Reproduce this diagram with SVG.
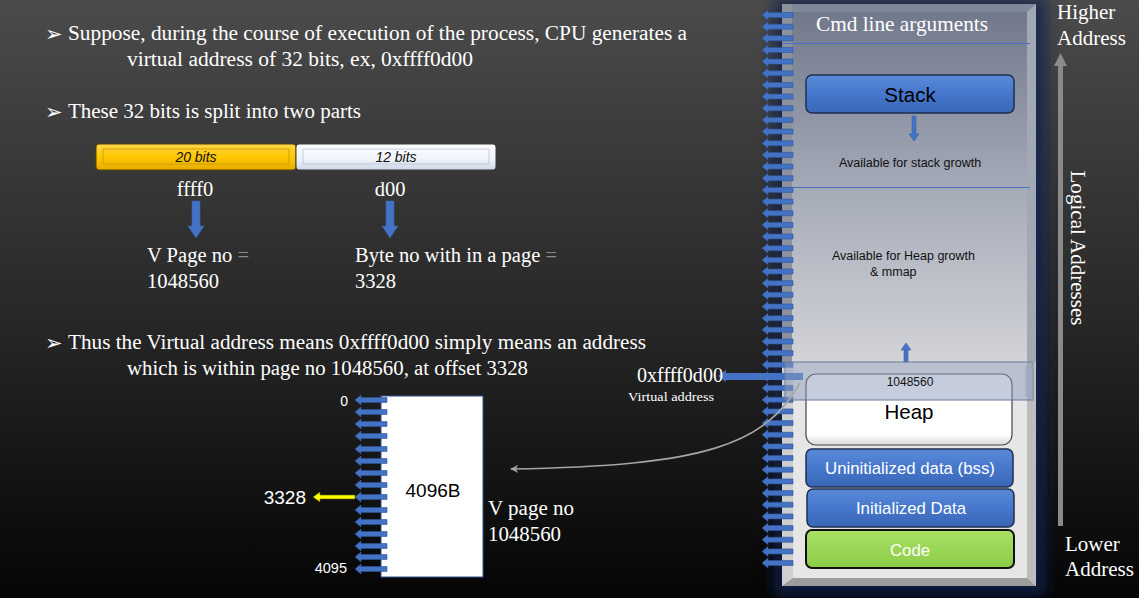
<svg xmlns="http://www.w3.org/2000/svg" width="1139" height="598" viewBox="0 0 1139 598">
  <defs>
    <linearGradient id="bg" x1="0" y1="0" x2="0" y2="1">
      <stop offset="0" stop-color="#4b4b4b"/>
      <stop offset="0.55" stop-color="#262626"/>
      <stop offset="1" stop-color="#050505"/>
    </linearGradient>
    <linearGradient id="upper" x1="0" y1="0" x2="0" y2="1">
      <stop offset="0" stop-color="#6e7689"/>
      <stop offset="0.55" stop-color="#a9aebb"/>
      <stop offset="1" stop-color="#d3d4d8"/>
    </linearGradient>
    <linearGradient id="blueBox" x1="0" y1="0" x2="0" y2="1">
      <stop offset="0" stop-color="#5b8ad8"/>
      <stop offset="0.5" stop-color="#4677cc"/>
      <stop offset="1" stop-color="#3a66b5"/>
    </linearGradient>
    <linearGradient id="greenBox" x1="0" y1="0" x2="0" y2="1">
      <stop offset="0" stop-color="#a8e064"/>
      <stop offset="1" stop-color="#8ccc48"/>
    </linearGradient>
    <linearGradient id="yellowBar" x1="0" y1="0" x2="0" y2="1">
      <stop offset="0" stop-color="#ffd54a"/>
      <stop offset="0.5" stop-color="#ffc800"/>
      <stop offset="1" stop-color="#e6ac00"/>
    </linearGradient>
    <linearGradient id="whiteBar" x1="0" y1="0" x2="0" y2="1">
      <stop offset="0" stop-color="#ffffff"/>
      <stop offset="0.6" stop-color="#eef2fa"/>
      <stop offset="1" stop-color="#cdd6e6"/>
    </linearGradient>
    <linearGradient id="heapBox" x1="0" y1="0" x2="0" y2="1">
      <stop offset="0" stop-color="#ffffff"/>
      <stop offset="0.85" stop-color="#ffffff"/>
      <stop offset="1" stop-color="#d8d8d8"/>
    </linearGradient>
    <filter id="glow" x="-20%" y="-10%" width="140%" height="120%">
      <feGaussianBlur stdDeviation="7"/>
    </filter>
    <marker id="grayHead" viewBox="0 0 10 10" refX="9" refY="5" markerWidth="8" markerHeight="8" orient="auto-start-reverse" markerUnits="userSpaceOnUse">
      <path d="M0,0 L10,5 L0,10 L3,5 Z" fill="#a6a6a6"/>
    </marker>
    <!-- small left-pointing tick arrow for the address column -->
    <path id="tick" d="M0,0 L6,-5 L6,-2.5 L31,-2.5 L31,2.5 L6,2.5 L6,5 Z" fill="#4472c4" stroke="#2f5597" stroke-width="0.6"/>
    <path id="pageTick" d="M0,0 L6,-5 L6,-2.5 L32,-2.5 L32,2.5 L6,2.5 L6,5 Z" fill="#4472c4" stroke="#2f5597" stroke-width="0.6"/>
    <!-- wide down arrow under the bit fields -->
    <path id="downArrow" d="M-4,0 L4,0 L4,25 L8,25 L0,37 L-8,25 L-4,25 Z" fill="#4472c4" stroke="#3a63ad" stroke-width="0.6"/>
  </defs>
  <style>
    .serif { font-family: "Liberation Serif", "DejaVu Serif", serif; fill: #ffffff; }
    .body { font-size: 20.5px; }
    .bullet { font-family: "DejaVu Sans", sans-serif; font-size: 21px; fill: #ffffff; }
    .sans { font-family: "Liberation Sans", Arial, sans-serif; }
    .segLabel { font-family: "Liberation Sans", Arial, sans-serif; font-size: 16.8px; fill: #ffffff; text-anchor: middle; }
    .note { font-family: "Liberation Sans", Arial, sans-serif; font-size: 12.5px; fill: #111111; }
    .blueArrow { fill: #4472c4; stroke: #3a63ad; stroke-width: 0.6; }
  </style>

  <rect x="0" y="0" width="1139" height="598" fill="url(#bg)"/>

  <!-- explanatory text -->
  <g id="intro">
    <text class="bullet" x="45" y="41">➢</text>
    <text class="serif body" x="68" y="40" textLength="619" lengthAdjust="spacingAndGlyphs">Suppose, during the course of execution of the process, CPU generates a</text>
    <text class="serif body" x="127" y="66" textLength="346" lengthAdjust="spacingAndGlyphs">virtual address of 32 bits, ex, 0xffff0d00</text>
    <text class="bullet" x="45" y="119">➢</text>
    <text class="serif body" x="68" y="118" textLength="293" lengthAdjust="spacingAndGlyphs">These 32 bits is split into two parts</text>
  </g>

  <!-- 32-bit split bar -->
  <g id="bits20">
    <rect x="96" y="144" width="200" height="26" rx="3" fill="url(#yellowBar)" stroke="#5a4400" stroke-width="1"/>
    <rect x="103" y="149" width="186" height="15" fill="none" stroke="#c79a00" stroke-width="0.8"/>
    <text class="sans" x="196" y="162" font-size="14" font-style="italic" fill="#111" text-anchor="middle">20 bits</text>
  </g>
  <g id="bits12">
    <rect x="296" y="144" width="200" height="26" rx="3" fill="url(#whiteBar)" stroke="#3a3a3a" stroke-width="1"/>
    <rect x="303" y="149" width="186" height="15" fill="none" stroke="#b8c4d8" stroke-width="0.8"/>
    <text class="sans" x="396" y="162" font-size="14" font-style="italic" fill="#111" text-anchor="middle">12 bits</text>
  </g>

  <g id="pagePart">
    <text class="serif" x="195" y="196" font-size="20.5" text-anchor="middle">ffff0</text>
    <use href="#downArrow" x="196" y="201"/>
    <text class="serif" x="147" y="262" font-size="20.5" textLength="102" lengthAdjust="spacingAndGlyphs">V Page no <tspan fill="#8a8a8a">=</tspan></text>
    <text class="serif" x="147" y="288" font-size="20.5" textLength="72" lengthAdjust="spacingAndGlyphs">1048560</text>
  </g>
  <g id="offsetPart">
    <text class="serif" x="390" y="196" font-size="20.5" text-anchor="middle">d00</text>
    <use href="#downArrow" x="390" y="201"/>
    <text class="serif" x="355" y="262" font-size="20.5" textLength="202" lengthAdjust="spacingAndGlyphs">Byte no with in a page <tspan fill="#8a8a8a">=</tspan></text>
    <text class="serif" x="355" y="288" font-size="20.5" textLength="41" lengthAdjust="spacingAndGlyphs">3328</text>
  </g>

  <g id="summary">
    <text class="bullet" x="45" y="350">➢</text>
    <text class="serif body" x="68" y="349" textLength="578" lengthAdjust="spacingAndGlyphs">Thus the Virtual address means 0xffff0d00 simply means an address</text>
    <text class="serif body" x="127" y="375" textLength="401" lengthAdjust="spacingAndGlyphs">which is within page no 1048560, at offset 3328</text>
  </g>

  <!-- one 4 KB page -->
  <g id="page">
    <rect x="381" y="396" width="102" height="181" fill="#ffffff" stroke="#2f5597" stroke-width="1"/>
    <text class="sans" x="433" y="497" font-size="19" fill="#000" text-anchor="middle">4096B</text>
    <g>
      <use href="#pageTick" x="355" y="400"/>
      <use href="#pageTick" x="355" y="412"/>
      <use href="#pageTick" x="355" y="424"/>
      <use href="#pageTick" x="355" y="436"/>
      <use href="#pageTick" x="355" y="449"/>
      <use href="#pageTick" x="355" y="461"/>
      <use href="#pageTick" x="355" y="473"/>
      <use href="#pageTick" x="355" y="485"/>
      <use href="#pageTick" x="355" y="497"/>
      <use href="#pageTick" x="355" y="510"/>
      <use href="#pageTick" x="355" y="522"/>
      <use href="#pageTick" x="355" y="534"/>
      <use href="#pageTick" x="355" y="546"/>
      <use href="#pageTick" x="355" y="557"/>
      <use href="#pageTick" x="355" y="569"/>
    </g>
    <text class="sans" x="348" y="406" font-size="14" fill="#fff" text-anchor="end">0</text>
    <text class="sans" x="347" y="573" font-size="14.5" fill="#fff" text-anchor="end">4095</text>
    <text class="serif" x="488" y="515" font-size="20.5" textLength="86" lengthAdjust="spacingAndGlyphs">V page no</text>
    <text class="serif" x="488" y="541" font-size="20.5" textLength="73" lengthAdjust="spacingAndGlyphs">1048560</text>
  </g>

  <g id="offset3328">
    <path d="M313,497 L320,492 L320,495 L355,495 L355,499 L320,499 L320,502 Z" fill="#ffff00" stroke="#5a5a00" stroke-width="0.6"/>
    <text class="sans" x="306" y="504" font-size="19" fill="#fff" text-anchor="end">3328</text>
  </g>

  <!-- process address space column -->
  <g id="addressSpace">
    <rect x="774" y="-2" width="272" height="598" fill="#0a2250" opacity="0.8" filter="url(#glow)"/>
    <!-- upper region -->
    <rect x="782" y="4" width="254" height="360" fill="url(#upper)"/>
    <polygon points="782,4 1036,4 1027,12 792,12" fill="#7f889a"/>
    <polygon points="1027,12 1036,4 1036,364 1027,364" fill="#a2a8b4"/>
    <rect x="782" y="4" width="10" height="360" fill="#8b919d"/>
    <!-- lower region -->
    <rect x="782" y="362" width="254" height="224" fill="#e6e6e6"/>
    <rect x="782" y="362" width="11" height="224" fill="#cfcfcf"/>
    <polygon points="1027,362 1036,362 1036,586 1027,578" fill="#bdbdbd"/>
    <polygon points="782,586 1036,586 1027,578 793,578" fill="#9d9d9d"/>
    <!-- section separators -->
    <line x1="782" y1="43.5" x2="1030" y2="43.5" stroke="#4472c4" stroke-width="1"/>
    <line x1="782" y1="187.5" x2="1030" y2="187.5" stroke="#4472c4" stroke-width="1"/>
    <text class="serif" x="902" y="31" font-size="21" text-anchor="middle" textLength="172" lengthAdjust="spacingAndGlyphs">Cmd line arguments</text>
  </g>

  <g id="cmdTicks">
    <use href="#tick" x="762" y="15"/>
    <use href="#tick" x="762" y="26.7"/>
    <use href="#tick" x="762" y="38.3"/>
    <use href="#tick" x="762" y="50"/>
    <use href="#tick" x="762" y="61.6"/>
    <use href="#tick" x="762" y="73.3"/>
    <use href="#tick" x="762" y="85"/>
    <use href="#tick" x="762" y="96.6"/>
    <use href="#tick" x="762" y="108.3"/>
    <use href="#tick" x="762" y="119.9"/>
    <use href="#tick" x="762" y="131.6"/>
    <use href="#tick" x="762" y="143.3"/>
    <use href="#tick" x="762" y="154.9"/>
    <use href="#tick" x="762" y="166.6"/>
    <use href="#tick" x="762" y="178.2"/>
    <use href="#tick" x="762" y="189.9"/>
    <use href="#tick" x="762" y="201.6"/>
    <use href="#tick" x="762" y="213.2"/>
    <use href="#tick" x="762" y="224.9"/>
    <use href="#tick" x="762" y="236.5"/>
    <use href="#tick" x="762" y="248.2"/>
    <use href="#tick" x="762" y="259.9"/>
    <use href="#tick" x="762" y="271.5"/>
    <use href="#tick" x="762" y="283.2"/>
    <use href="#tick" x="762" y="294.8"/>
    <use href="#tick" x="762" y="306.5"/>
    <use href="#tick" x="762" y="318.2"/>
    <use href="#tick" x="762" y="329.8"/>
    <use href="#tick" x="762" y="341.5"/>
    <use href="#tick" x="762" y="353.1"/>
    <use href="#tick" x="762" y="364.8"/>
    <use href="#tick" x="762" y="376.5"/>
    <use href="#tick" x="762" y="388.1"/>
    <use href="#tick" x="762" y="399.8"/>
    <use href="#tick" x="762" y="411.4"/>
    <use href="#tick" x="762" y="423.1"/>
    <use href="#tick" x="762" y="434.8"/>
    <use href="#tick" x="762" y="446.4"/>
    <use href="#tick" x="762" y="458.1"/>
    <use href="#tick" x="762" y="469.7"/>
    <use href="#tick" x="762" y="481.4"/>
    <use href="#tick" x="762" y="493.1"/>
    <use href="#tick" x="762" y="504.7"/>
    <use href="#tick" x="762" y="516.4"/>
    <use href="#tick" x="762" y="528"/>
    <use href="#tick" x="762" y="539.7"/>
    <use href="#tick" x="762" y="551.4"/>
    <use href="#tick" x="762" y="563"/>
  </g>

  <g id="stack">
    <rect x="806" y="75" width="208" height="38" rx="6" fill="url(#blueBox)" stroke="#1f2f4f" stroke-width="1.5"/>
    <text class="sans" x="910" y="102" font-size="20.5" fill="#000" text-anchor="middle">Stack</text>
    <path class="blueArrow" d="M912,116 L916,116 L916,134 L919,134 L914,141 L909,134 L912,134 Z"/>
    <text class="note" x="910" y="167" text-anchor="middle">Available for stack growth</text>
  </g>

  <g id="heapGrowth">
    <text class="note" x="832" y="260">Available for Heap growth</text>
    <text class="note" x="870" y="276">&amp; mmap</text>
    <path class="blueArrow" d="M904,362 L908,362 L908,350 L911,350 L906,343 L901,350 L904,350 Z"/>
  </g>

  <g id="virtualAddress">
    <path d="M718,376 L726,370 L726,373 L803,373 L803,380 L726,380 L726,382 Z" fill="#4472c4"/>
    <text class="serif" x="637" y="382" font-size="20" textLength="86" lengthAdjust="spacingAndGlyphs">0xffff0d00</text>
    <text class="serif" x="628" y="401" font-size="13.5" textLength="86" lengthAdjust="spacingAndGlyphs">Virtual address</text>
  </g>

  <g id="heap">
    <rect x="806" y="374" width="206" height="71" rx="10" fill="url(#heapBox)" stroke="#444" stroke-width="1.2"/>
    <text class="sans" x="909" y="419" font-size="20.5" fill="#000" text-anchor="middle">Heap</text>
  </g>

  <!-- translucent page highlight across the column -->
  <g id="pageBand">
    <rect x="785" y="362" width="248" height="38" fill="#8c9cbc" fill-opacity="0.5" stroke="#6a7a9a" stroke-width="1"/>
    <polygon points="1025,366 1033,362 1033,400 1025,396" fill="#9aa6be" fill-opacity="0.6"/>
    <text class="sans" x="910" y="386" font-size="12" fill="#111" text-anchor="middle">1048560</text>
  </g>

  <g id="bss">
    <rect x="806" y="449" width="207" height="38" rx="6" fill="url(#blueBox)" stroke="#1f2f4f" stroke-width="1.5"/>
    <text class="segLabel" x="910" y="474">Uninitialized data (bss)</text>
  </g>
  <g id="data">
    <rect x="807" y="489" width="207" height="38" rx="6" fill="url(#blueBox)" stroke="#1f2f4f" stroke-width="1.5"/>
    <text class="segLabel" x="911" y="514">Initialized Data</text>
  </g>
  <g id="code">
    <rect x="806" y="530" width="208" height="38" rx="6" fill="url(#greenBox)" stroke="#111" stroke-width="2"/>
    <text class="segLabel" x="910" y="556" font-size="18.5">Code</text>
  </g>

  <g id="connectors">
    <path d="M800,383 C765,445 705,466 511,469" fill="none" stroke="#a6a6a6" stroke-width="1.6" marker-end="url(#grayHead)"/>
  </g>

  <!-- address direction axis -->
  <g id="axis">
    <rect x="1058" y="64" width="5" height="462" fill="#8a8a8a"/>
    <polygon points="1054,66 1060.5,53 1067,66" fill="#8a8a8a"/>
    <text class="serif" x="1057" y="19" font-size="21">Higher</text>
    <text class="serif" x="1057" y="45" font-size="21">Address</text>
    <text class="serif" x="1065" y="551" font-size="21">Lower</text>
    <text class="serif" x="1065" y="576" font-size="21">Address</text>
    <text class="serif" font-size="21" text-anchor="middle" transform="translate(1071,248) rotate(90)" textLength="155" lengthAdjust="spacingAndGlyphs">Logical Addresses</text>
  </g>
</svg>
